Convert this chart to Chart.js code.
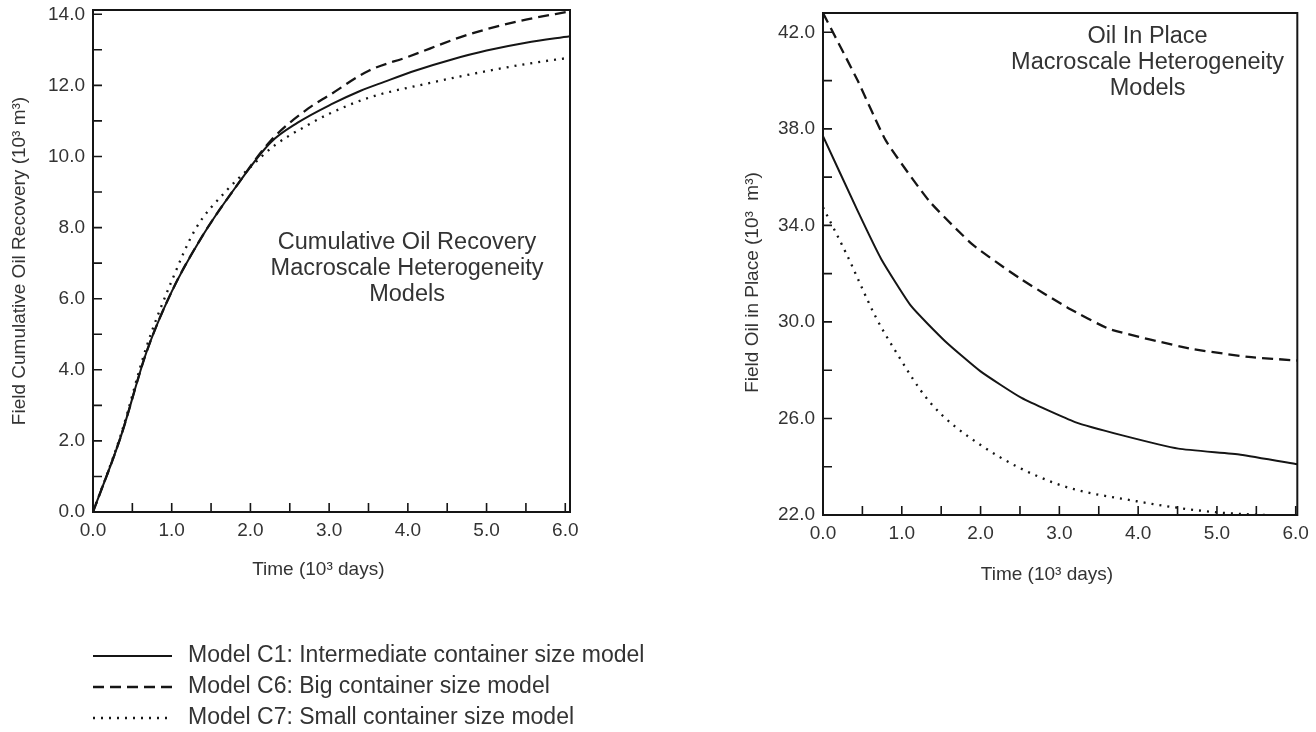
<!DOCTYPE html>
<html><head><meta charset="utf-8">
<script src="https://cdn.jsdelivr.net/npm/chart.js@4.4.1/dist/chart.umd.min.js"></script>
<style>
html,body{margin:0;padding:0;background:#fff;width:1316px;height:732px;overflow:hidden;position:relative}
canvas{position:absolute}
#left{left:0;top:-20px}
#right{left:730px;top:-20px}
</style></head><body>
<canvas id="left" width="720" height="752"></canvas>
<canvas id="right" width="586" height="640"></canvas>
<script>
// ---------- data (time in 10^3 days) ----------
const seriesLabels = [
  'Model C1: Intermediate container size model',
  'Model C6: Big container size model',
  'Model C7: Small container size model'
];
// Left: cumulative oil recovery (10^3 m^3)
const timeC1L = [0, 0.35, 0.68, 1.0, 1.4, 1.8, 2.26, 2.6, 3.03, 3.4, 3.7, 4.1, 4.56, 5.0, 5.5, 6.06];
const recC1   = [0, 2.1, 4.5, 6.2, 7.8, 9.1, 10.4, 10.95, 11.47, 11.85, 12.1, 12.42, 12.73, 12.98, 13.2, 13.38];
const timeC6L = [0, 0.35, 0.68, 1.0, 1.4, 1.8, 2.26, 2.74, 3.0, 3.51, 4.0, 4.66, 5.0, 5.5, 6.06];
const recC6   = [0, 2.1, 4.5, 6.2, 7.8, 9.1, 10.45, 11.36, 11.72, 12.42, 12.8, 13.35, 13.58, 13.85, 14.08];
const timeC7L = [0, 0.35, 0.68, 1.0, 1.3, 1.7, 2.0, 2.3, 2.7, 3.0, 3.5, 4.2, 5.0, 5.5, 6.06];
const recC7   = [0, 2.15, 4.65, 6.5, 7.95, 9.05, 9.7, 10.3, 10.85, 11.2, 11.65, 12.03, 12.4, 12.6, 12.78];
// Right: field oil in place (10^3 m^3)
const timeC1R = [0, 0.44, 0.74, 1.12, 1.55, 2.0, 2.52, 3.2, 3.8, 4.51, 5.3, 6.02];
const oipC1   = [37.7, 34.6, 32.6, 30.65, 29.2, 27.95, 26.85, 25.85, 25.3, 24.75, 24.5, 24.1];
const timeC6R = [0, 0.44, 0.8, 1.35, 1.9, 2.5, 3.1, 3.64, 4.65, 5.4, 6.02];
const oipC6   = [42.8, 40.0, 37.5, 35.0, 33.2, 31.8, 30.6, 29.7, 28.9, 28.55, 28.4];
const timeC7R = [0, 0.3, 0.67, 0.9, 1.35, 2.0, 2.96, 3.98, 4.97, 6.02];
const oipC7   = [34.75, 32.8, 30.2, 28.9, 26.7, 24.9, 23.3, 22.57, 22.12, 21.95];

// ---------- ticks ----------
const xTicks      = [0, 1, 2, 3, 4, 5, 6];
const xMinorTicks = [0.5, 1, 1.5, 2, 2.5, 3, 3.5, 4, 4.5, 5, 5.5, 6];
const leftYTicks  = [0, 2, 4, 6, 8, 10, 12, 14];
const leftYMinor  = [1, 2, 3, 4, 5, 6, 7, 8, 9, 10, 11, 12, 13, 14];
const rightYTicks = [22, 26, 30, 34, 38, 42];
const rightYMinor = [24, 26, 28, 30, 32, 34, 36, 38, 40, 42];

const leftNote  = ['Cumulative Oil Recovery', 'Macroscale Heterogeneity', 'Models'];
const rightNote = ['Oil In Place', 'Macroscale Heterogeneity', 'Models'];

// ---------- styling ----------
const FONT = "'Liberation Sans', Arial, Helvetica, sans-serif";
const INK = '#151515', TEXT = '#333333';
Chart.defaults.font.family = FONT;

const pts = (xs, ys) => xs.map((x, i) => ({x, y: ys[i]}));
const styles = [
  {borderDash: [], borderWidth: 2},
  {borderDash: [11, 6], borderWidth: 2.3},
  {borderDash: [2, 6], borderWidth: 2.3}
];

const framePlugin = {
  id: 'frame',
  afterDatasetsDraw(chart, _a, o) {
    const {ctx, chartArea: a, scales: {x, y}} = chart;
    ctx.save();
    ctx.strokeStyle = INK;
    ctx.lineWidth = 1.6;
    ctx.beginPath();
    o.xMinor.forEach(v => { const p = x.getPixelForValue(v); ctx.moveTo(p, a.bottom); ctx.lineTo(p, a.bottom - o.len); });
    o.yMinor.forEach(v => { const p = y.getPixelForValue(v); ctx.moveTo(a.left, p); ctx.lineTo(a.left + o.len, p); });
    ctx.stroke();
    ctx.lineWidth = 2;
    ctx.strokeRect(a.left, a.top, a.right - a.left, a.bottom - a.top);
    ctx.restore();
  }
};

const notePlugin = {
  id: 'note',
  afterDraw(chart, _a, o) {
    const {ctx, scales: {x, y}} = chart;
    const cx = x.getPixelForValue(o.x), cy = y.getPixelForValue(o.y);
    ctx.save();
    ctx.fillStyle = TEXT;
    ctx.font = o.size + 'px ' + FONT;
    ctx.textAlign = 'center';
    ctx.textBaseline = 'middle';
    const n = o.lines.length;
    o.lines.forEach((t, i) => ctx.fillText(t, cx, cy + (i - (n - 1) / 2) * o.gap));
    ctx.restore();
  }
};

const legendPlugin = {
  id: 'lineLegend',
  afterDraw(chart, _a, o) {
    if (!o.show) return;
    const {ctx, chartArea: a} = chart;
    ctx.save();
    ctx.font = o.size + 'px ' + FONT;
    ctx.textBaseline = 'middle';
    chart.data.datasets.forEach((ds, i) => {
      const yy = a.bottom + o.top + i * o.gap;
      ctx.strokeStyle = ds.borderColor;
      ctx.lineWidth = ds.borderWidth;
      ctx.setLineDash(ds.borderDash);
      ctx.beginPath();
      ctx.moveTo(a.left, yy);
      ctx.lineTo(a.left + o.lineLen, yy);
      ctx.stroke();
      ctx.setLineDash([]);
      ctx.fillStyle = TEXT;
      ctx.fillText(ds.label, a.left + o.lineLen + o.textGap, yy);
    });
    ctx.restore();
  }
};

function makeDatasets(sets) {
  return sets.map((s, i) => ({
    label: seriesLabels[i],
    data: pts(s[0], s[1]),
    borderColor: INK,
    borderWidth: styles[i].borderWidth,
    borderDash: styles[i].borderDash,
    pointRadius: 0,
    fill: false,
    cubicInterpolationMode: s[2] ? 'monotone' : 'default',
    tension: s[2] ? 0.4 : 0.15
  }));
}

function axisCommon() {
  return {
    grid: {display: false, drawTicks: false},
    border: {display: true, color: INK, width: 2}
  };
}

function makeChart(id, cfg) {
  return new Chart(document.getElementById(id), {
    type: 'line',
    data: {datasets: makeDatasets(cfg.sets)},
    options: {
      responsive: false,
      animation: false,
      devicePixelRatio: 1,
      layout: {padding: cfg.padding},
      plugins: {
        legend: {display: false},
        tooltip: {enabled: false},
        frame: {xMinor: xMinorTicks, yMinor: cfg.yMinor, len: 9},
        note: cfg.note,
        lineLegend: cfg.legend
      },
      scales: {
        x: Object.assign(axisCommon(), {
          type: 'linear', min: 0, max: cfg.xMax,
          afterBuildTicks: s => { s.ticks = xTicks.map(v => ({value: v})); },
          afterFit: s => { s.height = cfg.xHeight; },
          ticks: {padding: 7, color: TEXT, maxRotation: 0, autoSkip: false,
                  font: {family: FONT, size: 19}, callback: v => Number(v).toFixed(1)},
          title: {display: true, text: cfg.xTitle, color: TEXT,
                  font: {family: FONT, size: 19}, padding: {top: 0, bottom: cfg.xTitlePad}}
        }),
        y: Object.assign(axisCommon(), {
          type: 'linear', min: cfg.yMin, max: cfg.yMax,
          afterBuildTicks: s => { s.ticks = cfg.yTicks.map(v => ({value: v})); },
          afterFit: s => { s.width = cfg.yWidth; },
          ticks: {padding: 8, color: TEXT, autoSkip: false,
                  font: {family: FONT, size: 19}, callback: v => Number(v).toFixed(1)},
          title: {display: true, text: cfg.yTitle, color: TEXT,
                  font: {family: FONT, size: 19}, padding: {top: cfg.yTitlePad, bottom: 0}}
        })
      }
    },
    plugins: [framePlugin, notePlugin, legendPlugin]
  });
}

makeChart('left', {
  sets: [[timeC1L, recC1, true], [timeC6L, recC6, true], [timeC7L, recC7, true]],
  padding: {top: 30, right: 150, bottom: 0, left: 0},
  xMax: 6.06, xHeight: 220, xTitle: 'Time (10³ days)     ', xTitlePad: 150.6,
  yMin: 0, yMax: 14.12, yTicks: leftYTicks, yMinor: leftYMinor, yWidth: 93,
  yTitle: 'Field Cumulative Oil Recovery (10³ m³)', yTitlePad: 8.6,
  note: {lines: leftNote, x: 3.99, y: 6.85, gap: 26, size: 23.5},
  legend: {show: true, top: 144, gap: 31, lineLen: 79, textGap: 16, size: 23}
});

makeChart('right', {
  sets: [[timeC1R, oipC1, false], [timeC6R, oipC6, false], [timeC7R, oipC7, true]],
  padding: {top: 33, right: 18, bottom: 0, left: 0},
  xMax: 6.02, xHeight: 105, xTitle: 'Time (10³ days)     ', xTitlePad: 33.6,
  yMin: 22, yMax: 42.8, yTicks: rightYTicks, yMinor: rightYMinor, yWidth: 93,
  yTitle: 'Field Oil in Place (10³  m³)       ', yTitlePad: 11.6,
  note: {lines: rightNote, x: 4.12, y: 40.73, gap: 26, size: 23.5},
  legend: {show: false}
});
</script>
</body></html>
